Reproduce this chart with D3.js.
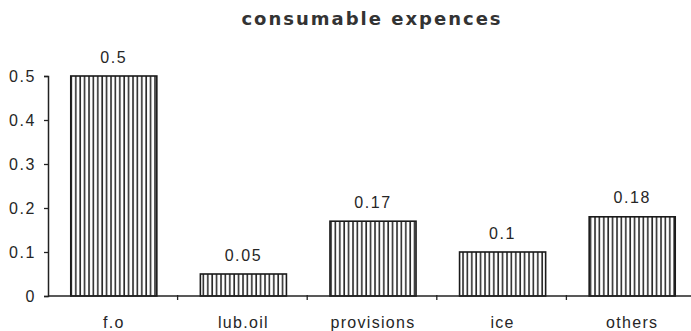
<!DOCTYPE html>
<html>
<head>
<meta charset="utf-8">
<script src="https://cdn.jsdelivr.net/npm/d3@7"></script>
<style>
  html, body { margin: 0; padding: 0; background: #fff; }
  svg { display: block; }
  text { fill: #262626; font-family: "Liberation Sans", Arial, sans-serif; }
</style>
</head>
<body>
<svg id="chart" width="691" height="331"></svg>
<script>
// Consumable expense shares by item
const categories = ["f.o", "lub.oil", "provisions", "ice", "others"];
const values = [0.5, 0.05, 0.17, 0.1, 0.18];
const yTicks = [0, 0.1, 0.2, 0.3, 0.4, 0.5];
const yTickLabels = ["0", "0.1", "0.2", "0.3", "0.4", "0.5"];
const title = "consumable expences";

const svg = d3.select("#chart");
const W = 691, H = 331;
const plotLeft = 48, plotRight = 696, plotTop = 76, plotBottom = 296;

const x = d3.scaleBand().domain(categories).range([plotLeft, plotRight])
  .paddingInner(0.336).paddingOuter(0.168);
const y = d3.scaleLinear().domain([0, 0.5]).range([plotBottom, plotTop]);

// vertical hatch fill for the bars
const defs = svg.append("defs");
const pat = defs.append("pattern")
  .attr("id", "vhatch")
  .attr("patternUnits", "userSpaceOnUse")
  .attr("width", 4.4).attr("height", 10);
pat.append("rect").attr("width", 4.4).attr("height", 10).attr("fill", "#fff");
pat.append("line")
  .attr("x1", 1).attr("x2", 1).attr("y1", 0).attr("y2", 10)
  .attr("stroke", "#2a2a2a").attr("stroke-width", 1.6);

// title
svg.append("text")
  .attr("x", 372).attr("y", 25)
  .attr("text-anchor", "middle")
  .style("font-family", "'DejaVu Sans', sans-serif")
  .style("font-weight", "bold")
  .style("font-size", "18px")
  .style("letter-spacing", "2px")
  .style("fill", "#333")
  .text(title);

// bars
svg.append("g").selectAll("rect")
  .data(values)
  .join("rect")
  .attr("x", (d, i) => x(categories[i]) + 1)
  .attr("y", d => y(d))
  .attr("width", x.bandwidth())
  .attr("height", d => y(0) - y(d))
  .attr("fill", "url(#vhatch)")
  .attr("stroke", "#1a1a1a")
  .attr("stroke-width", 1.6);

// value labels
svg.append("g").selectAll("text")
  .data(values)
  .join("text")
  .attr("x", (d, i) => x(categories[i]) + 1 + x.bandwidth() / 2)
  .attr("y", d => y(d) - 13.5)
  .attr("text-anchor", "middle")
  .style("font-size", "16px")
  .style("letter-spacing", "1.6px")
  .text(d => String(d));

// y axis
const yAxis = d3.axisLeft(y)
  .tickValues(yTicks)
  .tickFormat((d, i) => yTickLabels[i])
  .tickSizeOuter(0)
  .tickSize(4)
  .tickPadding(8);
const gy = svg.append("g").attr("transform", `translate(${plotLeft},0)`).call(yAxis);
gy.select(".domain").attr("stroke", "#222").attr("stroke-width", 1.5);
gy.selectAll(".tick line").attr("stroke", "#222").attr("stroke-width", 1.3);
gy.selectAll(".tick text")
  .style("font-size", "16px")
  .style("letter-spacing", "1.6px")
  .style("font-family", "'Liberation Sans', Arial, sans-serif")
  .attr("fill", "#262626");

// x axis: baseline with ticks between categories
const gx = svg.append("g");
gx.append("line")
  .attr("x1", plotLeft).attr("x2", W)
  .attr("y1", y(0)).attr("y2", y(0))
  .attr("stroke", "#222").attr("stroke-width", 1.5);
gx.selectAll("line.sep")
  .data(categories.slice(1))
  .join("line")
  .attr("class", "sep")
  .attr("x1", d => x(d) - x.step() * x.paddingInner() / 2)
  .attr("x2", d => x(d) - x.step() * x.paddingInner() / 2)
  .attr("y1", y(0) - 1).attr("y2", y(0) + 4)
  .attr("stroke", "#222").attr("stroke-width", 1.3);
gx.selectAll("text")
  .data(categories)
  .join("text")
  .attr("x", d => x(d) + 1 + x.bandwidth() / 2)
  .attr("y", 328)
  .attr("text-anchor", "middle")
  .style("font-size", "16px")
  .style("letter-spacing", "1.3px")
  .text(d => d);
</script>
</body>
</html>
